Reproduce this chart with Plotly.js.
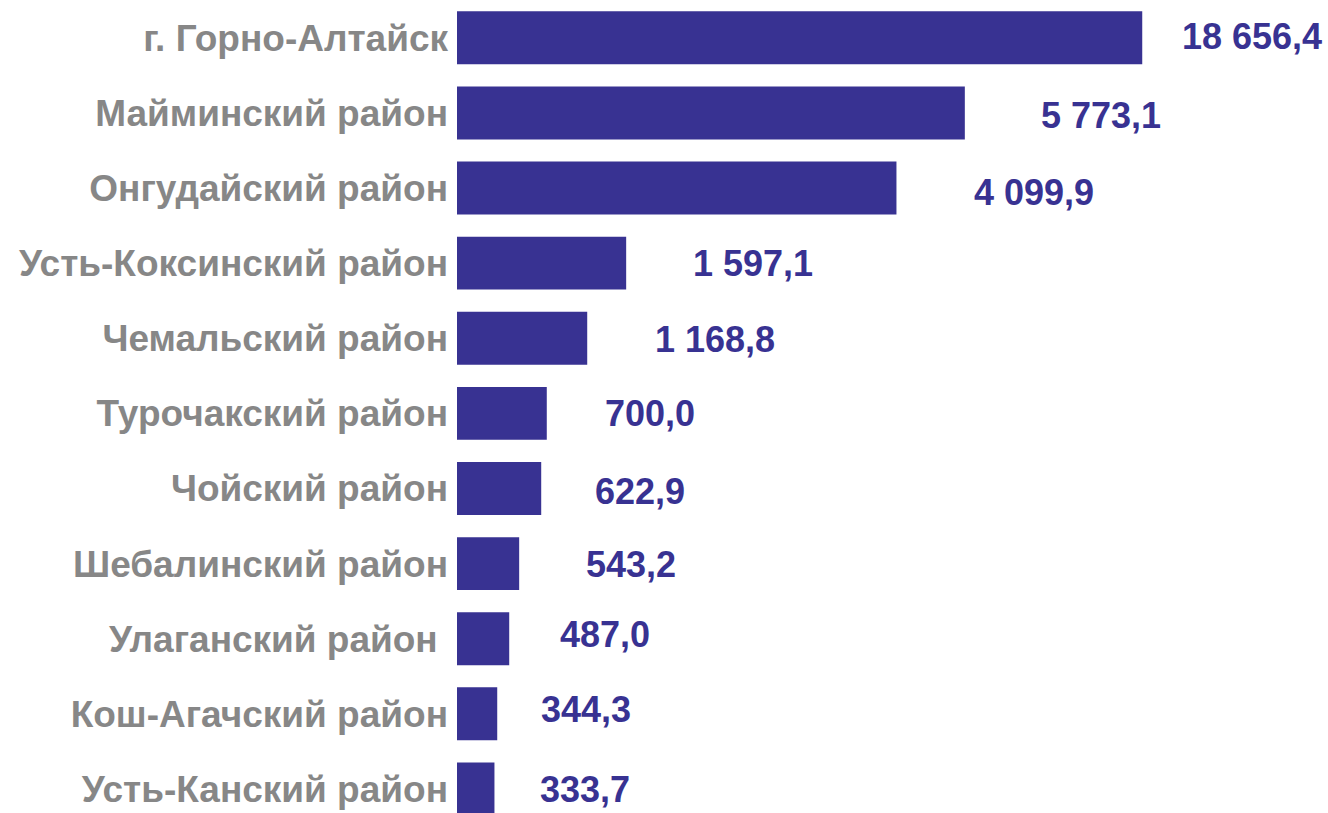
<!DOCTYPE html>
<html>
<head>
<meta charset="utf-8">
<script src="https://cdn.plot.ly/plotly-3.0.1.min.js"></script>
<style>
  html, body { margin: 0; padding: 0; background: #ffffff; }
  #chart { width: 1328px; height: 813px; }
</style>
</head>
<body>
<div id="chart"></div>
<script>
// ---- data ----
var regions = [
  "г. Горно-Алтайск",
  "Майминский район",
  "Онгудайский район",
  "Усть-Коксинский район",
  "Чемальский район",
  "Турочакский район",
  "Чойский район",
  "Шебалинский район",
  "Улаганский район\u00a0",
  "Кош-Агачский район",
  "Усть-Канский район"
];
// printed values
var values = [18656.4, 5773.1, 4099.9, 1597.1, 1168.8, 700.0, 622.9, 543.2, 487.0, 344.3, 333.7];
// bar lengths as drawn in the source (the source draws bars on a compressed,
// non-proportional scale); in axis units
var barValues = [6404, 4746, 4107, 1581, 1217, 839, 787, 581, 488, 376, 350];

// ---- formatting ----
function fmt(v) {
  var parts = v.toFixed(1).split(".");
  var intPart = parts[0].replace(/\B(?=(\d{3})+(?!\d))/g, " ");
  return intPart + "," + parts[1];
}

// ---- style ----
var barColor = "#383292";
var labelGray = "#878787";
// pixel nudges of the value labels, matching the source layout
var labelDx = [38, 74, 76, 65, 66, 56, 52, 65, 49, 42, 44];
var labelDy = [1, -2.5, -4.3, -0.7, -1, -0.5, -3, -0.5, 3.8, 4.1, -1];

var trace = {
  type: "bar",
  orientation: "h",
  y: regions,
  x: barValues,
  marker: { color: barColor, line: { width: 0 } },
  hoverinfo: "skip",
  showlegend: false
};

var annotations = regions.map(function (r, i) {
  return {
    x: barValues[i],
    y: r,
    xref: "x",
    yref: "y",
    text: fmt(values[i]),
    showarrow: false,
    xanchor: "left",
    yanchor: "middle",
    xshift: labelDx[i],
    yshift: labelDy[i],
    font: { family: "Liberation Sans, Arial, sans-serif", size: 36, color: barColor, weight: "bold" }
  };
});

var layout = {
  width: 1328,
  height: 813,
  margin: { l: 457, r: 0, t: 0, b: 0, pad: 0 },
  paper_bgcolor: "#ffffff",
  plot_bgcolor: "#ffffff",
  bargap: 0.295,
  xaxis: {
    range: [0, 8140],
    visible: false,
    showgrid: false,
    zeroline: false,
    fixedrange: true
  },
  yaxis: {
    type: "category",
    range: [10.32, -0.503],
    showgrid: false,
    zeroline: false,
    showline: false,
    ticks: "",
    ticklabelstandoff: 8,
    tickfont: { family: "Liberation Sans, Arial, sans-serif", size: 37, color: labelGray, weight: "bold" },
    fixedrange: true
  },
  annotations: annotations
};

Plotly.newPlot("chart", [trace], layout, { displayModeBar: false, staticPlot: true });
</script>
</body>
</html>
